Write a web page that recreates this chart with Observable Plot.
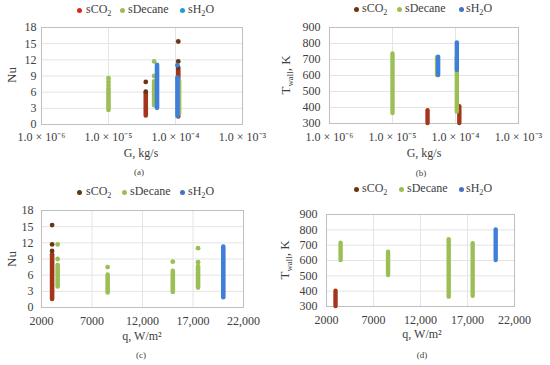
<!DOCTYPE html>
<html>
<head>
<meta charset="utf-8">
<script src="https://cdn.jsdelivr.net/npm/d3@7"></script>
<script src="https://cdn.jsdelivr.net/npm/@observablehq/plot@0.6"></script>
<style>
  html, body { margin: 0; padding: 0; background: #fff; }
  #root { position: relative; width: 550px; height: 365px; overflow: hidden; background: #fff; }
  #root svg { position: absolute; }
  .lab { position: absolute; font-family: "Liberation Serif", serif; color: #404040; white-space: nowrap; line-height: 1; }
  .lab sub { font-size: 0.68em; vertical-align: baseline; position: relative; top: 0.32em; }
  .dot { position: absolute; width: 5px; height: 5px; border-radius: 50%; }
</style>
</head>
<body>
<div id="root"></div>
<script>
// ---------------- data ----------------
const seriesNames = ["sCO2", "sDecane", "sH2O"];

const gTicks = [1e-6, 1e-5, 1e-4, 1e-3];
const gTickLabels = ["1.0 × 10⁻⁶", "1.0 × 10⁻⁵", "1.0 × 10⁻⁴", "1.0 × 10⁻³"];
const qTicks = [2000, 7000, 12000, 17000, 22000];
const qTickLabels = ["2000", "7000", "12,000", "17,000", "22,000"];
const nuTicks = [0, 3, 6, 9, 12, 15, 18];
const tTicks = [300, 400, 500, 600, 700, 800, 900];

// (a) G vs Nu : [series, G, NuLow, NuHigh] dense point columns, and isolated points [series, G, Nu]
const aColumns = [
  ["sCO2", 3.6e-5, 1.6, 5.8],
  ["sCO2", 1.1e-4, 1.4, 10.0],
  ["sDecane", 1.0e-5, 2.6, 6.2],
  ["sDecane", 4.8e-5, 3.5, 7.6],
  ["sDecane", 1.13e-4, 2.0, 8.0],
  ["sH2O", 5.3e-5, 3.0, 11.0],
  ["sH2O", 1.07e-4, 1.5, 8.4]
];
const aPoints = [
  ["sCO2", 3.6e-5, 6.1], ["sCO2", 3.6e-5, 7.9],
  ["sCO2", 1.1e-4, 10.5], ["sCO2", 1.1e-4, 11.7], ["sCO2", 1.1e-4, 15.4],
  ["sDecane", 1.0e-5, 6.7], ["sDecane", 1.0e-5, 7.3], ["sDecane", 1.0e-5, 7.9], ["sDecane", 1.0e-5, 8.6],
  ["sDecane", 4.8e-5, 8.0], ["sDecane", 4.8e-5, 9.0], ["sDecane", 4.8e-5, 11.7],
  ["sH2O", 1.07e-4, 8.7], ["sH2O", 1.07e-4, 11.0]
];

// (b) G vs Twall : [series, G, Tlow, Thigh]
const bColumns = [
  ["sCO2", 3.6e-5, 300, 380],
  ["sCO2", 1.15e-4, 300, 405],
  ["sDecane", 1.0e-5, 362, 735],
  ["sDecane", 5.1e-5, 600, 712],
  ["sDecane", 1.05e-4, 371, 709],
  ["sH2O", 5.3e-5, 600, 714],
  ["sH2O", 1.05e-4, 631, 804]
];

// (c) q vs Nu
const cColumns = [
  ["sCO2", 3050, 1.5, 9.8],
  ["sDecane", 3600, 3.8, 7.8],
  ["sDecane", 8550, 2.7, 6.0],
  ["sDecane", 15000, 2.8, 6.7],
  ["sDecane", 17500, 3.6, 7.6],
  ["sH2O", 20000, 1.8, 11.2]
];
const cPoints = [
  ["sCO2", 3050, 10.5], ["sCO2", 3050, 11.7], ["sCO2", 3050, 15.3],
  ["sDecane", 3600, 9.0], ["sDecane", 3600, 11.7],
  ["sDecane", 8550, 7.5],
  ["sDecane", 15000, 8.5],
  ["sDecane", 17500, 8.4], ["sDecane", 17500, 11.0]
];

// (d) q vs Twall
const dColumns = [
  ["sCO2", 2960, 300, 400],
  ["sDecane", 3500, 600, 713],
  ["sDecane", 8550, 502, 654],
  ["sDecane", 15000, 361, 735],
  ["sDecane", 17550, 367, 709],
  ["sH2O", 20000, 600, 800]
];

// ---------------- styles ----------------
const columnColor = { sCO2: "#a3361a", sDecane: "#9bbf55", sH2O: "#3f7fda" };
const pointColor = { sCO2: "#6b3512", sDecane: "#9bbf55", sH2O: "#3f7fda" };

const root = document.getElementById("root");

function panel(o) {
  const marks = [
    Plot.ruleY(o.yTicks, { stroke: "#e4e4e4" }),
    Plot.ruleX(o.xTicks, { stroke: "#e4e4e4" }),
    Plot.frame({ stroke: "#bfbfbf" })
  ];
  for (const s of seriesNames) {
    marks.push(Plot.ruleX(o.columns.filter(d => d[0] === s), {
      x: d => d[1], y1: d => d[2], y2: d => d[3],
      stroke: columnColor[s], strokeWidth: o.bw, strokeLinecap: "round"
    }));
    marks.push(Plot.dot((o.points || []).filter(d => d[0] === s), {
      x: d => d[1], y: d => d[2], r: 2.4, fill: pointColor[s], stroke: "none"
    }));
  }
  const svg = Plot.plot({
    width: o.width, height: o.height,
    marginLeft: o.mL, marginRight: o.mR, marginTop: o.mT, marginBottom: o.mB,
    style: { fontFamily: "Liberation Serif, serif", fontSize: "12px", color: "#404040", background: "transparent" },
    x: { type: o.xType, domain: o.xDomain, ticks: o.xTicks, tickFormat: d => o.xLabels[o.xTicks.indexOf(d)],
         tickSize: 0, tickPadding: o.xPad, label: null },
    y: { domain: o.yDomain, ticks: o.yTicks, tickSize: 0, tickPadding: o.yPad, label: null },
    marks
  });
  svg.style.left = o.left + "px";
  svg.style.top = o.top + "px";
  root.appendChild(svg);
}

function text(html, x, y, size, rotate) {
  const el = document.createElement("div");
  el.className = "lab";
  el.innerHTML = html;
  el.style.left = x + "px";
  el.style.top = y + "px";
  el.style.fontSize = size + "px";
  el.style.transform = "translate(-50%,-50%)" + (rotate ? " rotate(-90deg)" : "");
  root.appendChild(el);
}

function legend(items, y) {
  for (const it of items) {
    const d = document.createElement("div");
    d.className = "dot";
    d.style.left = (it.x - 2.5) + "px";
    d.style.top = (y - 2.5) + "px";
    d.style.background = it.color;
    root.appendChild(d);
    const t = document.createElement("div");
    t.className = "lab";
    t.innerHTML = it.html;
    t.style.left = it.tx + "px";
    t.style.top = y + "px";
    t.style.fontSize = "12px";
    t.style.transform = "translateY(-55%)";
    root.appendChild(t);
  }
}

const CO2 = "sCO<sub>2</sub>", DEC = "sDecane", H2O = "sH<sub>2</sub>O";

// (a)
panel({ left: 0, top: 17, width: 275, height: 147, mL: 41, mR: 33, mT: 10, mB: 40,
  xType: "log", xDomain: [1e-6, 1e-3], xTicks: gTicks, xLabels: gTickLabels, xPad: 8,
  yDomain: [0, 18], yTicks: nuTicks, yPad: 5, columns: aColumns, points: aPoints, bw: 4.6 });
legend([
  { x: 79, tx: 86, color: "#e0261c", html: CO2 },
  { x: 122, tx: 128, color: "#9bbf55", html: DEC },
  { x: 182, tx: 188, color: "#1f9edb", html: H2O }
], 10);
text("Nu", 11, 75, 13, true);
text("G, kg/s", 141, 153, 12);
text("(a)", 139, 172, 9);

// (b)
panel({ left: 275, top: 17, width: 275, height: 146, mL: 54, mR: 32, mT: 10, mB: 40,
  xType: "log", xDomain: [1e-6, 1e-3], xTicks: gTicks, xLabels: gTickLabels, xPad: 9,
  yDomain: [300, 900], yTicks: tTicks, yPad: 9, columns: bColumns, points: [], bw: 4.4 });
legend([
  { x: 356, tx: 362, color: "#6b3512", html: CO2 },
  { x: 399, tx: 405, color: "#9bbf55", html: DEC },
  { x: 461, tx: 466, color: "#4472c4", html: H2O }
], 9);
text("T<sub>wall</sub>, K", 285, 75, 13, true);
text("G, kg/s", 424, 153, 12);
text("(b)", 421, 173, 9);

// (c)
panel({ left: 0, top: 200, width: 275, height: 147, mL: 41, mR: 32, mT: 10, mB: 40,
  xType: "linear", xDomain: [2000, 22000], xTicks: qTicks, xLabels: qTickLabels, xPad: 9,
  yDomain: [0, 18], yTicks: nuTicks, yPad: 8, columns: cColumns, points: cPoints, bw: 4.6 });
legend([
  { x: 79, tx: 86, color: "#5a3a18", html: CO2 },
  { x: 124, tx: 130, color: "#9bbf55", html: DEC },
  { x: 182, tx: 188, color: "#4472c4", html: H2O }
], 192);
text("Nu", 11, 259, 13, true);
text("q, W/m²", 142, 336, 12);
text("(c)", 141, 355, 9);

// (d)
panel({ left: 275, top: 204, width: 275, height: 142, mL: 51, mR: 36, mT: 10, mB: 40,
  xType: "linear", xDomain: [2000, 22000], xTicks: qTicks, xLabels: qTickLabels, xPad: 9,
  yDomain: [300, 900], yTicks: tTicks, yPad: 9, columns: dColumns, points: [], bw: 4.4 });
legend([
  { x: 356, tx: 362, color: "#6b3512", html: CO2 },
  { x: 401, tx: 407, color: "#9bbf55", html: DEC },
  { x: 461, tx: 466, color: "#4472c4", html: H2O }
], 189);
text("T<sub>wall</sub>, K", 284, 260, 13, true);
text("q, W/m²", 422, 334, 12);
text("(d)", 422, 355, 9);
</script>
</body>
</html>
